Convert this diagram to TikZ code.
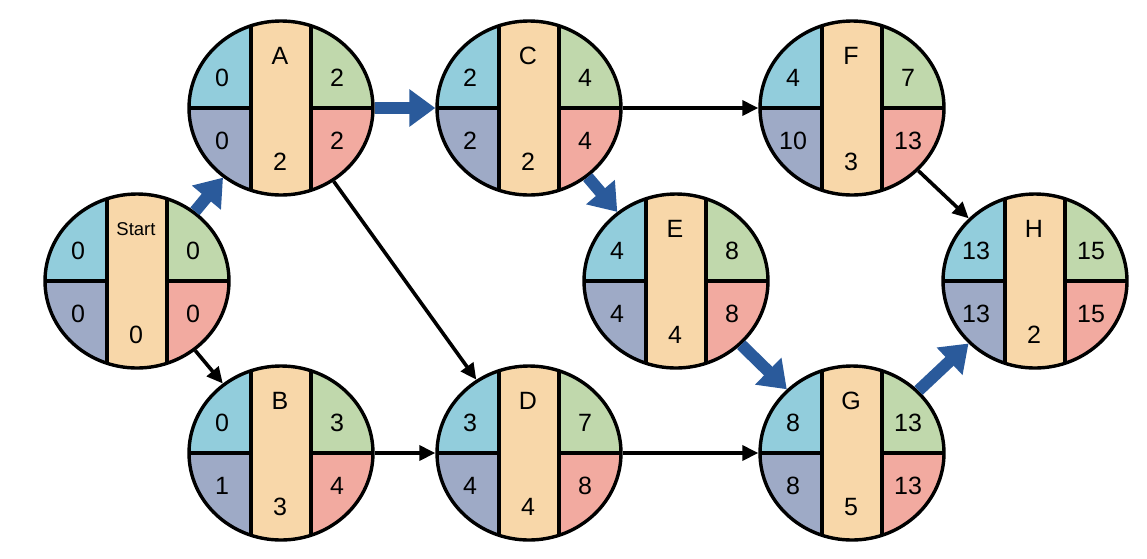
\documentclass[tikz,border=0pt]{standalone}
\usepackage{fontspec}
\setmainfont{Liberation Sans}
\usetikzlibrary{shapes.geometric,arrows.meta}

\definecolor{esblue}{HTML}{92CDDC}
\definecolor{efgreen}{HTML}{C0D8AC}
\definecolor{lsgray}{HTML}{9EAAC6}
\definecolor{lfred}{HTML}{F2AAA0}
\definecolor{durorange}{HTML}{F8D7A9}
\definecolor{critblue}{HTML}{2A5A9B}

% name, position, label, ES, EF, LS, LF, duration
\newcommand{\pertnode}[8]{%
    \node [event] (#1) at (#2) {};
    \node [num] (#1-lbl) at ([shift={(-1pt,52pt)}]#1.center) {#3};
    \node [num] (#1-es) at ([shift={(-59pt,30pt)}]#1.center) {#4};
    \node [num] (#1-ef) at ([shift={(56pt,30pt)}]#1.center) {#5};
    \node [num] (#1-ls) at ([shift={(-59pt,-33pt)}]#1.center) {#6};
    \node [num] (#1-lf) at ([shift={(56pt,-33pt)}]#1.center) {#7};
    \node [num] (#1-dur) at ([shift={(-1pt,-54pt)}]#1.center) {#8};
}

\begin{document}
\begin{tikzpicture}[x=1pt, y=-1pt,
        event/.style={ellipse, draw, line width=3.4pt, minimum width=184pt,
            minimum height=174pt, inner sep=0pt,
            path picture={
                \begin{scope}[shift={(path picture bounding box.center)}]
                    \fill [esblue] (-100pt,0pt) rectangle (-30pt,100pt);
                    \fill [efgreen] (30pt,0pt) rectangle (100pt,100pt);
                    \fill [lsgray] (-100pt,0pt) rectangle (-30pt,-100pt);
                    \fill [lfred] (30pt,0pt) rectangle (100pt,-100pt);
                    \fill [durorange] (-30pt,-100pt) rectangle (30pt,100pt);
                    \draw [line width=3.4pt] (-30pt,-100pt) -- (-30pt,100pt)
                        (30pt,-100pt) -- (30pt,100pt)
                        (-100pt,0pt) -- (-30pt,0pt) (30pt,0pt) -- (100pt,0pt);
                \end{scope}}},
        num/.style={inner sep=0pt, font=\fontsize{25}{27}\selectfont},
        crit/.style={critblue, line width=12pt, -{Triangle[length=26pt,width=36pt]}},
        link/.style={black, line width=3.6pt, -{Triangle[length=16pt,width=15pt]}}]
    \useasboundingbox (0,0) rectangle (1147,558);

    \pertnode{start}{137,281}{\fontsize{18.5}{20}\selectfont Start}{0}{0}{0}{0}{0}
    \pertnode{a}{281,108}{A}{0}{2}{0}{2}{2}
    \pertnode{b}{281,453}{B}{0}{3}{1}{4}{3}
    \pertnode{c}{529,108}{C}{2}{4}{2}{4}{2}
    \pertnode{d}{529,453}{D}{3}{7}{4}{8}{4}
    \pertnode{e}{676,281}{E}{4}{8}{4}{8}{4}
    \pertnode{f}{852,108}{F}{4}{7}{10}{13}{3}
    \pertnode{g}{852,453}{G}{8}{13}{8}{13}{5}
    \pertnode{h}{1035,281}{H}{13}{15}{13}{15}{2}

    \draw [crit] (start) -- (a);
    \draw [crit] (a) -- (c);
    \draw [crit] (c) -- (e);
    \draw [crit] (e) -- (g);
    \draw [crit] (g) -- (h);

    \draw [link] (start) -- (b);
    \draw [link] (a) -- (d);
    \draw [link] (b) -- (d);
    \draw [link] (c) -- (f);
    \draw [link] (d) -- (g);
    \draw [link] (f) -- (h);
\end{tikzpicture}
\end{document}
